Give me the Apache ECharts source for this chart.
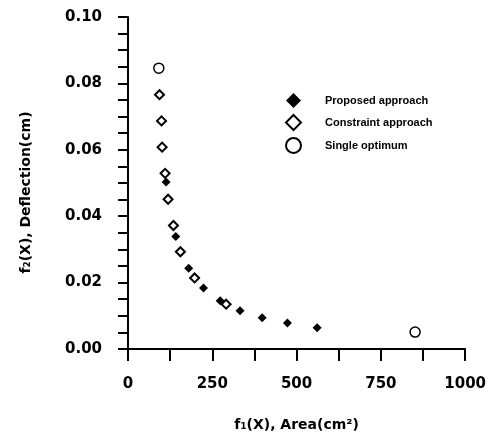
<!DOCTYPE html>
<html><head><meta charset="utf-8">
<script src="https://cdn.jsdelivr.net/npm/echarts@6/dist/echarts.min.js"></script>
<style>html,body{margin:0;padding:0;background:#fff}#c{width:489px;height:437px}</style>
</head><body><div id="c"></div>
<script>
// Proposed approach (filled diamonds)
const proposedX = [113, 141.6, 180, 224, 273.5, 332.4, 398, 473, 561];
const proposedY = [0.0503, 0.0339, 0.0243, 0.0184, 0.0145, 0.0115, 0.0094, 0.0078, 0.0064];
// Constraint approach (open diamonds)
const constraintX = [93.5, 99.4, 101.2, 110, 118.9, 134.8, 155.5, 197.6, 291];
const constraintY = [0.0766, 0.0687, 0.0608, 0.0529, 0.0451, 0.0372, 0.0293, 0.0214, 0.0135];
// Single optimum (open circles)
const singleX = [91.4, 851.6];
const singleY = [0.0846, 0.0051];

const xLabels = [0, 250, 500, 750, 1000];
const yLabels = [0.00, 0.02, 0.04, 0.06, 0.08, 0.10];

const zip = (a, b) => a.map((v, i) => [v, b[i]]);
const F = '"DejaVu Sans", sans-serif';

const chart = echarts.init(document.getElementById('c'));
chart.setOption({
  animation: false,
  backgroundColor: '#fff',
  grid: { left: 128, right: 21, top: 17, bottom: 81 },
  xAxis: {
    type: 'value', min: 0, max: 1000, interval: 125,
    axisLine: { lineStyle: { color: '#000', width: 2 } },
    axisTick: { inside: false, length: 12, lineStyle: { color: '#000', width: 2 } },
    splitLine: { show: false },
    axisLabel: {
      margin: 28, color: '#000', fontFamily: F, fontWeight: 'bold', fontSize: 15,
      formatter: v => xLabels.includes(Math.round(v)) ? String(Math.round(v)) : ''
    },
    name: 'f\u2081(X), Area(cm\u00b2)', nameLocation: 'middle', nameGap: 69,
    nameTextStyle: { color: '#000', fontFamily: F, fontWeight: 'bold', fontSize: 14 }
  },
  yAxis: {
    type: 'value', min: 0, max: 0.1, interval: 0.005,
    axisLine: { show: true, lineStyle: { color: '#000', width: 2 } },
    axisTick: { show: true, inside: false, length: 10, lineStyle: { color: '#000', width: 2 } },
    splitLine: { show: false },
    axisLabel: {
      margin: 26, color: '#000', fontFamily: F, fontWeight: 'bold', fontSize: 15,
      formatter: v => {
        const k = Math.round(v * 1000);
        const hit = yLabels.find(l => Math.round(l * 1000) === k);
        return hit !== undefined ? hit.toFixed(2) : '';
      }
    },
    name: 'f\u2082(X), Deflection(cm)', nameLocation: 'middle', nameGap: 95, nameRotate: 90,
    nameTextStyle: { color: '#000', fontFamily: F, fontWeight: 'bold', fontSize: 14, padding: [0, 19, 0, 0] }
  },
  legend: {
    orient: 'vertical', left: 285, top: 93, padding: 0,
    itemWidth: 15, itemHeight: 15, itemGap: 6,
    textStyle: { color: '#000', fontFamily: '"Liberation Sans", Arial, sans-serif', fontWeight: 'bold', fontSize: 11, padding: [0, 0, 0, 19] },
    data: ['Proposed approach', 'Constraint approach', 'Single optimum']
  },
  series: [
    {
      name: 'Proposed approach', type: 'scatter', symbol: 'diamond', symbolSize: 9,
      itemStyle: { color: '#000', opacity: 1 },
      data: zip(proposedX, proposedY)
    },
    {
      name: 'Constraint approach', type: 'scatter', symbol: 'diamond', symbolSize: 9,
      itemStyle: { color: '#fff', borderColor: '#000', borderWidth: 2, opacity: 1 },
      data: zip(constraintX, constraintY)
    },
    {
      name: 'Single optimum', type: 'scatter', symbol: 'circle', symbolSize: 10,
      itemStyle: { color: '#fff', borderColor: '#000', borderWidth: 1.5, opacity: 1 },
      data: zip(singleX, singleY)
    }
  ]
});
</script></body></html>
